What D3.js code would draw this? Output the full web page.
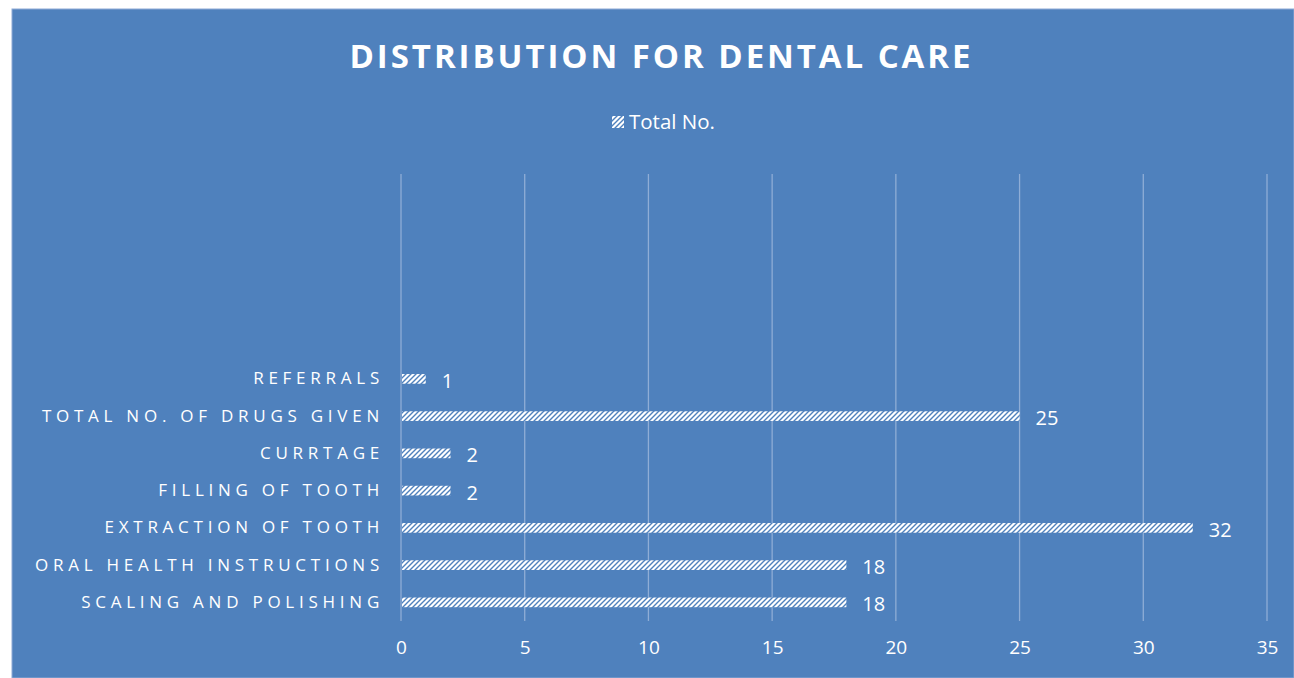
<!DOCTYPE html>
<html>
<head>
<meta charset="utf-8">
<script src="https://cdn.jsdelivr.net/npm/d3@7"></script>
<style>
  html, body { margin: 0; padding: 0; background: #ffffff; }
  svg { display: block; }
  text { font-family: "Open Sans", "Noto Sans", sans-serif; fill: #ffffff; }
</style>
</head>
<body>
<svg id="chart" width="1294" height="678"></svg>
<script>
// Category rows, bottom to top; blank rows keep the empty space above the bars
const categories = [
  "SCALING AND POLISHING",
  "ORAL HEALTH INSTRUCTIONS",
  "EXTRACTION OF TOOTH",
  "FILLING OF TOOTH",
  "CURRTAGE",
  "TOTAL NO. OF DRUGS GIVEN",
  "REFERRALS",
  "", "", "", "", ""
];
const totals = [18, 18, 32, 2, 2, 25, 1, null, null, null, null, null];
const xTicks = [0, 5, 10, 15, 20, 25, 30, 35];
const seriesName = "Total No.";
const chartTitle = "DISTRIBUTION FOR DENTAL CARE";

const svg = d3.select("#chart");
const W = 1294, H = 678;
const bg = "#4F81BD";

// chart frame
svg.append("rect").attr("x", 12).attr("y", 9).attr("width", W - 12).attr("height", H - 9)
  .attr("fill", bg).attr("stroke", "#8eaad6").attr("stroke-width", 1);

// hatch pattern: white with blue upward diagonal stripes
const defs = svg.append("defs");
const p = 5;
const pat = defs.append("pattern").attr("id", "hatch")
  .attr("patternUnits", "userSpaceOnUse").attr("width", p).attr("height", p);
pat.append("rect").attr("width", p).attr("height", p).attr("fill", "#ffffff");
pat.append("path").attr("d", `M-1,1 L1,-1 M0,${p} L${p},0 M${p - 1},${p + 1} L${p + 1},${p - 1}`)
  .attr("stroke", bg).attr("stroke-width", 1.4);

const plot = { left: 401, right: 1267, top: 174, bottom: 621 };

const x = d3.scaleLinear().domain([0, 35]).range([plot.left, plot.right]);
const y = d3.scaleBand().domain(d3.range(categories.length))
  .range([plot.bottom, plot.top]).paddingInner(0.74).paddingOuter(0.37);

// title
svg.append("text").attr("x", 660).attr("y", 68).attr("text-anchor", "middle")
  .attr("font-size", 33).attr("font-weight", 700)
  .attr("textLength", 621).attr("lengthAdjust", "spacing")
  .text(chartTitle);

// legend
const lg = svg.append("g").attr("transform", "translate(612,116)");
lg.append("rect").attr("width", 12).attr("height", 12).attr("fill", "url(#hatch)");
lg.append("text").attr("x", 17).attr("y", 6).attr("dy", "0.35em")
  .attr("font-size", 20.5).text(seriesName);

// vertical gridlines
svg.append("g").selectAll("line").data(xTicks).join("line")
  .attr("x1", d => x(d)).attr("x2", d => x(d))
  .attr("y1", plot.top).attr("y2", plot.bottom)
  .attr("stroke", "#8FADD6").attr("stroke-width", 1.3);

// x axis tick labels
const xAxis = d3.axisBottom(x).tickValues(xTicks).tickSize(0).tickPadding(20);
const gx = svg.append("g").attr("transform", `translate(0,${plot.bottom})`).call(xAxis);
gx.select(".domain").remove();
gx.selectAll("text").attr("font-size", 19).attr("fill", "#ffffff")
  .style("font-family", '"Open Sans", sans-serif');

// category labels
const yAxis = d3.axisLeft(y).tickFormat(i => categories[i]).tickSize(0).tickPadding(17);
const gy = svg.append("g").attr("transform", `translate(${plot.left},0)`).call(yAxis);
gy.select(".domain").remove();
gy.selectAll("text").attr("font-size", 17).attr("fill", "#ffffff")
  .attr("letter-spacing", "4.75px")
  .style("font-family", '"Open Sans", sans-serif');

// bars
const rows = d3.range(categories.length).filter(i => totals[i] != null);
svg.append("g").selectAll("rect").data(rows).join("rect")
  .attr("x", x(0) + 1)
  .attr("y", i => y(i))
  .attr("width", i => x(totals[i]) - x(0) - 1)
  .attr("height", y.bandwidth())
  .attr("fill", "url(#hatch)");

// value labels
svg.append("g").selectAll("text").data(rows).join("text")
  .attr("x", i => x(totals[i]) + 16)
  .attr("y", i => y(i) + y.bandwidth() / 2 + 2)
  .attr("dy", "0.35em")
  .attr("font-size", 20)
  .text(i => totals[i]);
</script>
</body>
</html>
